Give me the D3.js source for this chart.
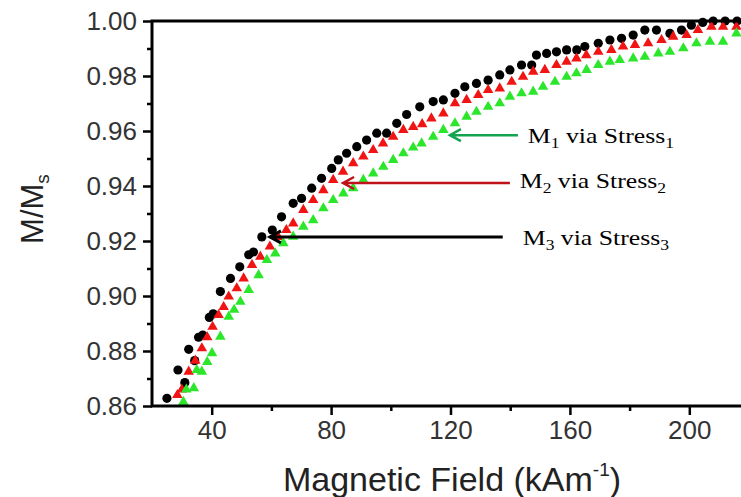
<!DOCTYPE html>
<html>
<head>
<meta charset="utf-8">
<script src="https://cdn.jsdelivr.net/npm/d3@7"></script>
<style>
  body { margin: 0; background: #fff; }
  text { font-family: Arial, "Liberation Sans", sans-serif; }
</style>
</head>
<body>
<svg id="chart"></svg>
<script>
// M3 via Stress3 (black circles)
const m3Field = [25.0, 28.7, 31.0, 32.3, 34.3, 35.6, 37.0, 39.2, 40.5, 42.9, 46.3, 49.4, 52.4, 54.0, 56.8, 60.3,
  63.4, 67.3, 70.1, 73.5, 76.8, 80.2, 82.4, 85.2, 88.6, 91.9, 95.3, 98.6, 102.0, 105.3, 109.7, 114.2,
  117.6, 121.5, 124.8, 128.7, 132.6, 136.5, 139.9, 143.8, 147.2, 148.8, 152.2, 155.5, 158.9, 162.3,
  165.0, 169.5, 173.4, 177.3, 181.2, 185.1, 189.0, 193.5, 197.4, 200.7, 204.5, 208.0, 212.0, 216.0];
const m3Mag = [0.8628, 0.8731, 0.8685, 0.8806, 0.8765, 0.8850, 0.8858, 0.8922, 0.8935, 0.9016, 0.9064, 0.9106, 0.9150, 0.9160, 0.9215, 0.9240,
  0.9288, 0.9337, 0.9355, 0.9392, 0.9428, 0.9464, 0.9495, 0.9519, 0.9543, 0.9567, 0.9592, 0.9592, 0.9628, 0.9660, 0.9688, 0.9707,
  0.9713, 0.9737, 0.9761, 0.9773, 0.9785, 0.9804, 0.9822, 0.9840, 0.9840, 0.9876, 0.9882, 0.9888, 0.9895, 0.9895,
  0.9907, 0.9919, 0.9931, 0.9937, 0.9949, 0.9967, 0.9967, 0.9955, 0.9967, 0.9985, 0.9995, 1.0000, 1.0000, 1.0000];

// M2 via Stress2 (red triangles)
const m2Field = [28.5, 30.0, 32.3, 34.5, 36.7, 38.5, 40.3, 42.3, 44.0, 45.7, 48.4, 50.7, 53.5, 56.3, 59.5, 62.3,
  65.0, 67.3, 70.7, 74.0, 77.4, 80.7, 84.0, 87.4, 90.8, 94.1, 97.4, 100.8, 104.2, 107.5, 110.5, 113.6,
  117.6, 121.5, 125.4, 129.3, 132.6, 136.5, 140.5, 144.3, 147.7, 151.6, 155.5, 158.9, 162.2, 165.5,
  169.5, 173.9, 177.8, 181.8, 186.2, 190.7, 194.6, 199.1, 202.9, 207.4, 211.3, 215.8];
const m2Mag = [0.8640, 0.8660, 0.8725, 0.8765, 0.8810, 0.8850, 0.8888, 0.8931, 0.8960, 0.8998, 0.9028, 0.9064, 0.9113, 0.9143, 0.9180, 0.9215,
  0.9240, 0.9264, 0.9313, 0.9349, 0.9385, 0.9422, 0.9452, 0.9483, 0.9507, 0.9531, 0.9555, 0.9579, 0.9604, 0.9615, 0.9625, 0.9646,
  0.9664, 0.9701, 0.9713, 0.9731, 0.9749, 0.9755, 0.9779, 0.9797, 0.9816, 0.9822, 0.9840, 0.9852, 0.9864, 0.9876,
  0.9888, 0.9895, 0.9907, 0.9913, 0.9919, 0.9931, 0.9943, 0.9949, 0.9967, 0.9979, 0.9979, 0.9979];

// M1 via Stress1 (green triangles)
const m1Field = [30.5, 31.5, 34.0, 35.0, 36.7, 38.5, 40.1, 42.9, 45.7, 47.5, 49.6, 52.4, 55.7, 58.5, 61.3, 64.0,
  67.3, 70.7, 74.0, 77.4, 80.7, 84.1, 87.4, 90.8, 94.1, 97.5, 100.8, 104.2, 107.5, 110.3, 114.2, 117.6,
  121.5, 125.4, 128.7, 132.6, 136.5, 139.9, 143.8, 147.7, 151.0, 155.0, 158.9, 162.2, 165.6, 169.5,
  173.4, 176.7, 181.2, 185.1, 189.6, 193.5, 198.0, 202.4, 206.9, 211.3, 215.8];
const m1Mag = [0.8615, 0.8660, 0.8665, 0.8731, 0.8725, 0.8760, 0.8792, 0.8852, 0.8925, 0.8950, 0.8979, 0.9022, 0.9076, 0.9131, 0.9155, 0.9192,
  0.9216, 0.9252, 0.9276, 0.9319, 0.9349, 0.9373, 0.9392, 0.9422, 0.9446, 0.9470, 0.9495, 0.9519, 0.9540, 0.9555, 0.9579, 0.9604,
  0.9628, 0.9652, 0.9670, 0.9688, 0.9701, 0.9725, 0.9737, 0.9743, 0.9761, 0.9779, 0.9797, 0.9810, 0.9822, 0.9840,
  0.9852, 0.9858, 0.9864, 0.9870, 0.9882, 0.9888, 0.9901, 0.9919, 0.9925, 0.9925, 0.9955];

const xMajor = [40, 80, 120, 160, 200];
const xMinor = [60, 100, 140, 180];
const yMajor = [0.86, 0.88, 0.90, 0.92, 0.94, 0.96, 0.98, 1.00];
const yMinor = [0.87, 0.89, 0.91, 0.93, 0.95, 0.97, 0.99];

// annotations (data units)
const annoSub = ["1", "2", "3"];
const annoTipField = [119.8, 84.0, 59.5];
const annoTipMag = [0.9585, 0.9411, 0.9215];
const annoTailField = [142.6, 139.9, 137.5];
const annoTextField = [145.9, 143.2, 144.2];
const annoTextMag = [0.9556, 0.9393, 0.9186];

const W = 741, H = 497;
const svg = d3.select("#chart").attr("width", W).attr("height", H);

const x = d3.scaleLinear().domain([20, 220]).range([152, 749]);
const y = d3.scaleLinear().domain([0.86, 1.00]).range([406, 21]);

// axes: major + minor ticks, outward
svg.append("g").attr("transform", `translate(${x(20)},0)`)
  .call(d3.axisLeft(y).tickValues(yMajor).tickSize(9).tickPadding(6).tickFormat(d3.format(".2f")));
svg.append("g").attr("transform", `translate(${x(20)},0)`)
  .call(d3.axisLeft(y).tickValues(yMinor).tickSize(5).tickFormat(""));
svg.append("g").attr("transform", `translate(0,${y(0.86)})`)
  .call(d3.axisBottom(x).tickValues(xMajor).tickSize(9).tickPadding(6));
svg.append("g").attr("transform", `translate(0,${y(0.86)})`)
  .call(d3.axisBottom(x).tickValues(xMinor).tickSize(5).tickFormat(""));

svg.selectAll(".domain").remove();
svg.selectAll(".tick line").attr("stroke", "#000").attr("stroke-width", 2.5);
svg.selectAll(".tick text").attr("fill", "#333").style("font-size", "26px");

// series
svg.append("defs").append("clipPath").attr("id", "plot")
  .append("rect").attr("x", x(20)).attr("y", y(1.0) - 6).attr("width", x(220) - x(20)).attr("height", y(0.86) - y(1.0) + 6);
const plot = svg.append("g").attr("clip-path", "url(#plot)");

plot.selectAll(".m3").data(m3Field).join("circle")
  .attr("cx", d => x(d)).attr("cy", (d, i) => y(m3Mag[i])).attr("r", 4.6).attr("fill", "#000");

const tri = d3.symbol().type(d3.symbolTriangle).size(48);
plot.selectAll(".m2").data(m2Field).join("path")
  .attr("d", tri).attr("transform", (d, i) => `translate(${x(d)},${y(m2Mag[i])})`).attr("fill", "#f01414");
plot.selectAll(".m1").data(m1Field).join("path")
  .attr("d", tri).attr("transform", (d, i) => `translate(${x(d)},${y(m1Mag[i])})`).attr("fill", "#2ce62c");

// frame
svg.append("path")
  .attr("d", `M${W + 5},${y(1.0)}H${x(20)}V${y(0.86)}H${W + 5}`)
  .attr("fill", "none").attr("stroke", "#000").attr("stroke-width", 3);

// axis titles
const yt = svg.append("text")
  .attr("transform", `translate(43,209) rotate(-90)`)
  .attr("text-anchor", "middle").attr("fill", "#222").style("font-size", "31px");
yt.append("tspan").text("M/M");
yt.append("tspan").attr("dy", 6).style("font-size", "19px").text("s");

const xt = svg.append("text")
  .attr("x", 452).attr("y", 491).attr("text-anchor", "middle")
  .attr("fill", "#222").style("font-size", "34px");
xt.append("tspan").text("Magnetic Field (kAm");
xt.append("tspan").attr("dy", -15).style("font-size", "19px").text("-1");
xt.append("tspan").attr("dy", 15).text(")");

// annotations
const annoColor = ["#14a450", "#c0121a", "#000"];
annoSub.forEach((s, i) => {
  const tx = x(annoTipField[i]), ty = y(annoTipMag[i]);
  svg.append("path")
    .attr("d", `M${x(annoTailField[i])},${ty}H${tx}M${tx + 11},${ty - 6}L${tx},${ty}L${tx + 11},${ty + 6}`)
    .attr("fill", "none").attr("stroke", annoColor[i]).attr("stroke-width", i === 2 ? 3 : 2.5);
  const t = svg.append("text")
    .attr("transform", `translate(${x(annoTextField[i])},${y(annoTextMag[i])}) scale(1.17,1)`)
    .attr("fill", "#000")
    .style("font-family", "'Times New Roman', 'Liberation Serif', serif").style("font-size", "22px");
  t.append("tspan").text("M");
  t.append("tspan").attr("dy", 5).style("font-size", "15px").text(s);
  t.append("tspan").attr("dy", -5).text(" via Stress");
  t.append("tspan").attr("dy", 5).style("font-size", "15px").text(s);
});
</script>
</body>
</html>
